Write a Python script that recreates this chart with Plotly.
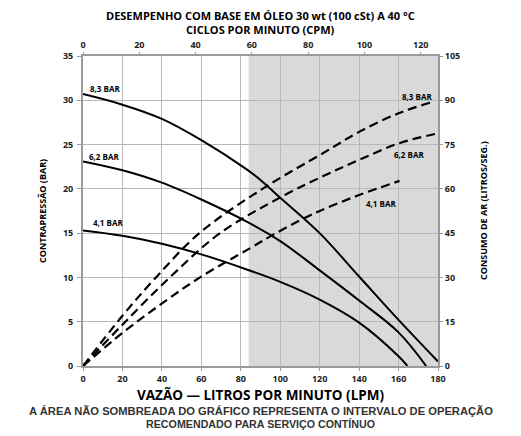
import plotly.graph_objects as go

# --- Back pressure (bar) vs flow (LPM), solid curves ---
lpm_bp_83 = [0, 20, 40, 60, 83, 90, 100, 120, 140, 160, 180]
bp_83 = [30.7, 29.5, 27.9, 25.5, 22.2, 21.0, 19.0, 15.0, 10.1, 5.2, 0.5]
lpm_bp_62 = [0, 20, 40, 60, 83, 100, 120, 140, 160, 174]
bp_62 = [23.1, 22.1, 20.7, 18.8, 16.3, 14.1, 10.8, 7.4, 3.8, 0]
lpm_bp_41 = [0, 20, 40, 60, 83, 100, 120, 140, 160, 164.5]
bp_41 = [15.3, 14.7, 13.8, 12.6, 10.9, 9.5, 7.5, 4.9, 1.1, 0]

# --- Air consumption (l/s) vs flow (LPM), dashed curves ---
lpm_air_83 = [0, 20, 37, 59, 91, 123, 140, 160, 176.5]
air_83 = [0, 17, 30, 45, 60, 72.6, 79.3, 85.6, 89.3]
lpm_air_62 = [0, 20, 44, 69.5, 102, 123, 140, 160, 180]
air_62 = [0, 14, 30, 45, 57.8, 64.7, 69.8, 75.4, 78.8]
lpm_air_41 = [0, 20, 39, 59.3, 85, 96.5, 113.4, 123, 140, 160.5]
air_41 = [0, 11.2, 20.7, 30, 40, 44.5, 50.5, 53.4, 57.9, 62.7]

curve_labels = ["8,3 BAR", "6,2 BAR", "4,1 BAR"]
left_label_pos = [(11.2, 31.3), (10.6, 23.6), (12.7, 16.2)]
right_label_pos = [(169.2, 30.4), (165.1, 23.9), (151.0, 18.4)]

x_ticks = [0, 20, 40, 60, 80, 100, 120, 140, 160, 180]
cpm_ticks = [0, 20, 40, 60, 80, 100, 120]
y_left_ticks = [0, 5, 10, 15, 20, 25, 30, 35]
y_right_ticks = [0, 15, 30, 45, 60, 75, 90, 105]
lpm_per_cpm = 1.427
shade_start = 84

FONT = "Open Sans"
AXC = "#9a9a9a"
GRID = "#b8b8b8"

fig = go.Figure()
for xs, ys in [(lpm_bp_83, bp_83), (lpm_bp_62, bp_62), (lpm_bp_41, bp_41)]:
    fig.add_trace(go.Scatter(x=xs, y=ys, mode="lines", line=dict(color="black", width=2, shape="spline", smoothing=1.0),
                             xaxis="x", yaxis="y", showlegend=False, hoverinfo="skip"))
for xs, ys in [(lpm_air_83, air_83), (lpm_air_62, air_62), (lpm_air_41, air_41)]:
    fig.add_trace(go.Scatter(x=xs, y=ys, mode="lines", line=dict(color="black", width=2.2, dash="9px,5px", shape="spline", smoothing=1.0),
                             xaxis="x", yaxis="y2", showlegend=False, hoverinfo="skip"))
# invisible trace to activate top axis
fig.add_trace(go.Scatter(x=[0], y=[0], mode="markers", marker=dict(opacity=0), xaxis="x2", yaxis="y", showlegend=False, hoverinfo="skip"))

fig.add_shape(type="rect", xref="x", yref="y", x0=shade_start, x1=180, y0=0, y1=35,
              fillcolor="#d9d9d9", line=dict(width=0), layer="below")

tickfont = dict(family=FONT, size=9, color="#222", weight="bold")
# page body has an 8px margin: the figure is shrunk/shifted so the plot area lands where the reference has it
fig.update_layout(
    width=513, height=428,
    margin=dict(l=75, r=83, t=48, b=70),
    paper_bgcolor="white", plot_bgcolor="white",
    xaxis=dict(range=[0, 180], tickvals=x_ticks, showgrid=True, gridcolor=GRID, gridwidth=1,
               showline=True, linecolor=AXC, linewidth=2, mirror=True, ticks="outside", ticklen=3,
               tickcolor=AXC, tickfont=tickfont, zeroline=False),
    xaxis2=dict(range=[0, 180 / lpm_per_cpm], tickvals=cpm_ticks, overlaying="x", side="top", showgrid=False,
                ticks="outside", ticklen=3, tickcolor=AXC, tickfont=tickfont, zeroline=False, showline=False),
    yaxis=dict(range=[0, 35], tickvals=y_left_ticks, showgrid=True, gridcolor=GRID, gridwidth=1,
               showline=True, linecolor=AXC, linewidth=2, mirror=True, ticks="outside", ticklen=4,
               tickcolor=AXC, tickfont=tickfont, zeroline=False, ticklabelstandoff=2),
    yaxis2=dict(range=[0, 105], tickvals=y_right_ticks, overlaying="y", side="right", showgrid=False,
                ticks="outside", ticklen=4, tickcolor=AXC, tickfont=tickfont, zeroline=False, showline=False),
)

ann = []
def txt(t, x, y, size, xref="paper", yref="paper", angle=0, family=FONT, color="black", weight="bold"):
    ann.append(dict(text=t, x=x, y=y, xref=xref, yref=yref, showarrow=False, textangle=angle,
                    font=dict(family=family, size=size, color=color, weight=weight),
                    xanchor="center", yanchor="middle"))

txt("DESEMPENHO COM BASE EM ÓLEO 30 wt (100 cSt) A 40 °C", 0.5, 1.132, 11)
txt("CICLOS POR MINUTO (CPM)", 0.5, 1.085, 11)
txt("VAZÃO — LITROS POR MINUTO (LPM)", 0.5, -0.095, 13.5)
txt("A ÁREA NÃO SOMBREADA DO GRÁFICO REPRESENTA O INTERVALO DE OPERAÇÃO", 0.5, -0.146, 11.2,
    family="Liberation Sans", color="#333")
txt("RECOMENDADO PARA SERVIÇO CONTÍNUO", 0.5, -0.188, 10.7, family="Liberation Sans", color="#333")
txt("CONTRAPRESSÃO (BAR)", -0.1155, 0.5, 9, angle=-90)
txt("CONSUMO DE AR (LITROS/SEG.)", 1.1268, 0.5, 9, angle=-90)
for lab, (lx, ly) in zip(curve_labels, left_label_pos):
    txt(lab, lx, ly, 8, xref="x", yref="y")
for lab, (lx, ly) in zip(curve_labels, right_label_pos):
    txt(lab, lx, ly, 8, xref="x", yref="y")
fig.update_layout(annotations=ann)

fig.write_html("out.html")
